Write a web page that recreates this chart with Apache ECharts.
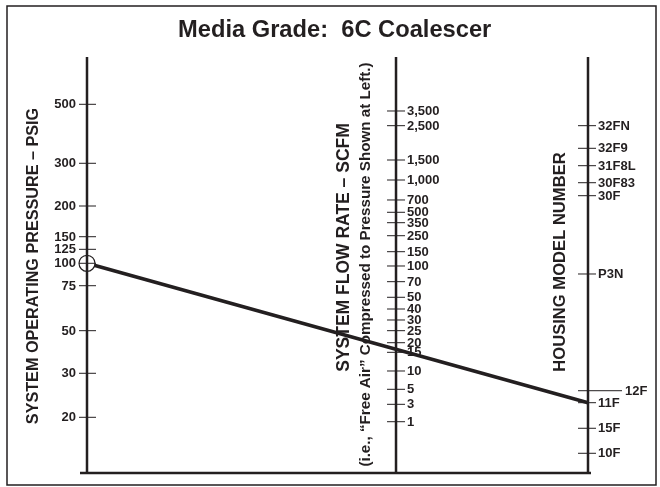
<!DOCTYPE html>
<html><head><meta charset="utf-8">
<script src="https://cdn.jsdelivr.net/npm/echarts@6/dist/echarts.min.js"></script>
<style>html,body{margin:0;padding:0;background:#fff}#c{width:660px;height:487px}</style>
</head><body><div id="c"></div>
<script>
// Nomograph scale readings: position along the scale (0 = base line, 100 = top of scales)
const pressureLabels = ['500','300','200','150','125','100','75','50','30','20'];
const pressurePos    = [88.63,74.45,64.18,56.80,53.77,50.41,45.02,34.21,23.97,13.39];
const flowLabels = ['3,500','2,500','1,500','1,000','700','500','350','250','150','100','70','50','40','30','25','20','15','10','5','3','1'];
const flowPos    = [87.02,83.49,75.24,70.43,65.63,62.67,60.17,57.04,53.20,49.76,45.99,42.24,39.42,36.78,34.21,31.32,29.01,24.52,20.12,16.51,12.33];
const modelLabels = ['32FN','32F9','31F8L','30F83','30F','P3N','12F','11F','15F','10F'];
const modelPos    = [83.49,78.05,73.87,69.78,66.66,47.84,19.78,16.90,10.75,4.74];
const solutionPressure = '100';
const solutionModel = '11F';

const INK = '#231f20';
const FONT = 'Liberation Sans, Arial, Helvetica, sans-serif';
const scaleX = { pressure: 0, flow: 0.6168, model: 1 };
const longTicks = { '12F': 34 };

function tickSeries(xv, labels, pos, side, z) {
  return {
    type: 'custom', z: z, silent: true,
    data: pos.map(p => [xv, p]),
    renderItem: function (params, api) {
      const p = api.coord([api.value(0), api.value(1)]);
      const label = labels[params.dataIndex];
      let x1, x2, tx, align;
      if (side === 'left') { x1 = p[0] - 8; x2 = p[0] + 9; tx = p[0] - 11; align = 'right'; }
      else if (side === 'mid') { x1 = p[0] - 9; x2 = p[0] + 9; tx = x2 + 2; align = 'left'; }
      else { x1 = p[0] - 10; x2 = p[0] + (longTicks[label] || 8); tx = x2 + (longTicks[label] ? 3 : 2); align = 'left'; }
      return { type: 'group', children: [
        { type: 'line', shape: { x1: x1, y1: p[1], x2: x2, y2: p[1] }, style: { stroke: INK, lineWidth: 1 } },
        { type: 'text', x: tx, y: p[1] + 0.5, style: { text: label, fill: INK, font: 'bold 13px ' + FONT, textAlign: align, textVerticalAlign: 'middle' } }
      ]};
    }
  };
}

function axisLineSeries(xv, z) {
  return {
    type: 'custom', z: z, silent: true,
    data: [[xv, 0]],
    renderItem: function (params, api) {
      const a = api.coord([api.value(0), 0]);
      const b = api.coord([api.value(0), 100]);
      return { type: 'line', shape: { x1: a[0], y1: a[1], x2: b[0], y2: b[1] }, style: { stroke: INK, lineWidth: 2.5 } };
    }
  };
}

const baseSeries = {
  type: 'custom', z: 2, silent: true,
  data: [[0, 0]],
  renderItem: function (params, api) {
    const a = api.coord([scaleX.pressure, 0]);
    const b = api.coord([scaleX.model, 0]);
    return { type: 'line', shape: { x1: a[0] - 7, y1: a[1], x2: b[0] + 3, y2: b[1] }, style: { stroke: INK, lineWidth: 2.5 } };
  }
};

const p0 = pressurePos[pressureLabels.indexOf(solutionPressure)];
const p1 = modelPos[modelLabels.indexOf(solutionModel)];

const chart = echarts.init(document.getElementById('c'), null, { renderer: 'canvas' });
chart.setOption({
  animation: false,
  backgroundColor: '#fff',
  title: {
    text: 'Media Grade:  6C Coalescer', left: 178, top: 18, padding: 0,
    textStyle: { fontFamily: FONT, fontSize: 23.7, fontWeight: 'bold', color: INK }
  },
  grid: { left: 87, right: 72, top: 57, bottom: 14 },
  xAxis: { type: 'value', min: 0, max: 1, show: false },
  yAxis: { type: 'value', min: 0, max: 100, show: false },
  graphic: [
    { type: 'rect', shape: { x: 7, y: 6, width: 649, height: 479 }, style: { fill: 'none', stroke: INK, lineWidth: 1.5 }, silent: true },
    { type: 'text', x: 34, y: 266, rotation: Math.PI / 2, style: { text: 'SYSTEM OPERATING PRESSURE – PSIG', fill: INK, font: 'bold 16.2px ' + FONT, textAlign: 'center', textVerticalAlign: 'middle' } },
    { type: 'text', x: 344, y: 247.5, rotation: Math.PI / 2, style: { text: 'SYSTEM FLOW RATE – SCFM', fill: INK, font: 'bold 17.5px ' + FONT, textAlign: 'center', textVerticalAlign: 'middle' } },
    { type: 'text', x: 366, y: 264.5, rotation: Math.PI / 2, style: { text: '(i.e., \u201cFree Air\u201d Compressed to Pressure Shown at Left.)', fill: INK, font: 'bold 15.2px ' + FONT, textAlign: 'center', textVerticalAlign: 'middle' } },
    { type: 'text', x: 560, y: 262, rotation: Math.PI / 2, style: { text: 'HOUSING MODEL NUMBER', fill: INK, font: 'bold 16.6px ' + FONT, textAlign: 'center', textVerticalAlign: 'middle' } }
  ],
  series: [
    baseSeries,
    axisLineSeries(scaleX.flow, 2),
    axisLineSeries(scaleX.model, 2),
    tickSeries(scaleX.flow, flowLabels, flowPos, 'mid', 2),
    tickSeries(scaleX.model, modelLabels, modelPos, 'right', 2),
    {
      type: 'line', z: 3, silent: true, symbol: 'none',
      data: [[scaleX.pressure, p0], [scaleX.model, p1]],
      lineStyle: { color: INK, width: 3.5 }
    },
    {
      type: 'scatter', z: 4, silent: true, symbol: 'circle', symbolSize: 16,
      data: [[scaleX.pressure, p0]],
      itemStyle: { color: '#fff', borderColor: INK, borderWidth: 1.2, opacity: 1 }
    },
    axisLineSeries(scaleX.pressure, 5),
    tickSeries(scaleX.pressure, pressureLabels, pressurePos, 'left', 5)
  ]
});
</script>
</body></html>
